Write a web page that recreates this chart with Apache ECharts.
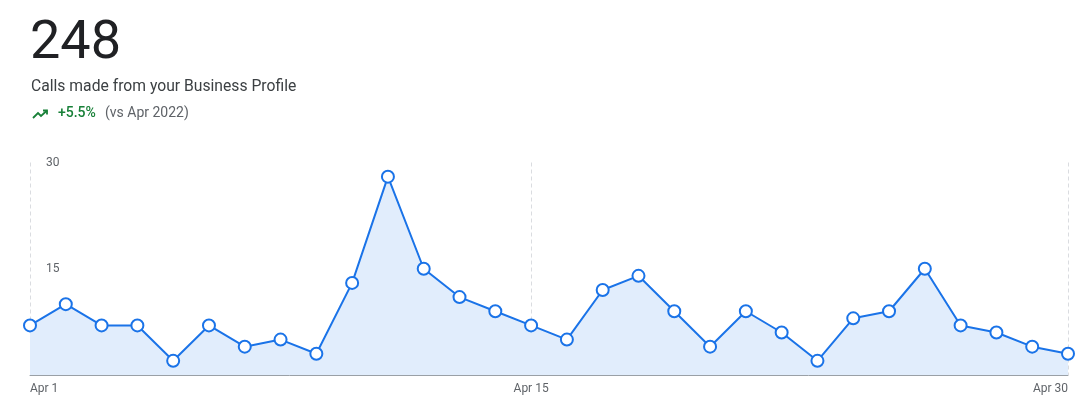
<!DOCTYPE html>
<html>
<head>
<meta charset="utf-8">
<script src="https://cdn.jsdelivr.net/npm/echarts@6/dist/echarts.min.js"></script>
<style>
html,body{margin:0;padding:0;background:#fff;}
#c{width:1091px;height:416px;}
</style>
</head>
<body>
<div id="c"></div>
<script>
const days = [];
for (let i = 1; i <= 30; i++) days.push('Apr ' + i);
const calls = [7,10,7,7,2,7,4,5,3,13,28,15,11,9,7,5,12,14,9,4,9,6,2,8,9,15,7,6,4,3];
const yTicks = [0, 15, 30];
const shownDays = [0, 14, 29];
const totalText = '248';
const subtitleText = 'Calls made from your Business Profile';
const changeText = '+5.5%';
const compareText = '(vs Apr 2022)';

const chart = echarts.init(document.getElementById('c'));
const font = 'Roboto, "Noto Sans", sans-serif';
chart.setOption({
  animation: false,
  grid: {left: 30, right: 23, top: 162.5, bottom: 41, containLabel: false},
  xAxis: {
    type: 'category',
    data: days,
    boundaryGap: false,
    axisLine: {show: true, lineStyle: {color: '#9aa0a6', width: 1}},
    axisTick: {show: false},
    axisLabel: {
      interval: (i) => shownDays.includes(i),
      color: '#5f6368', fontSize: 12, fontFamily: font, margin: 8,
      alignMinLabel: 'left', alignMaxLabel: 'right'
    },
    splitLine: {
      show: true,
      interval: (i) => shownDays.includes(i),
      lineStyle: {color: '#dadce0', type: [4, 3], width: 1}
    }
  },
  yAxis: {
    type: 'value',
    min: yTicks[0], max: yTicks[2], interval: 15,
    axisLine: {show: false},
    axisTick: {show: false},
    splitLine: {show: false},
    axisLabel: {
      inside: true, margin: 16,
      color: '#5f6368', fontSize: 12, fontFamily: font,
      formatter: (v) => (v === 0 ? '' : String(v))
    }
  },
  series: [{
    type: 'line',
    data: calls,
    symbol: 'circle',
    symbolSize: 12,
    showAllSymbol: true,
    lineStyle: {color: '#1a73e8', width: 2},
    itemStyle: {color: '#ffffff', borderColor: '#1a73e8', borderWidth: 2},
    areaStyle: {color: '#e1edfc', opacity: 1},
    z: 3
  }],
  graphic: [
    {type: 'text', left: 30, top: 17, style: {text: totalText, font: '400 54px ' + font, fill: '#202124'}},
    {type: 'text', left: 31, top: 79, style: {text: subtitleText, font: '400 15.7px ' + font, fill: '#3c4043'}},
    {type: 'polyline', shape: {points: [[33,118],[38,113],[41,116],[47,110.5]]}, style: {stroke: '#188038', lineWidth: 1.8, fill: null}},
    {type: 'polyline', shape: {points: [[43,110.5],[47,110.5],[47,114.5]]}, style: {stroke: '#188038', lineWidth: 1.8, fill: null}},
    {type: 'text', left: 58, top: 106, style: {text: changeText, font: '500 14px ' + font, fill: '#188038'}},
    {type: 'text', left: 105, top: 106, style: {text: compareText, font: '400 14px ' + font, fill: '#5f6368'}}
  ]
});
</script>
</body>
</html>
